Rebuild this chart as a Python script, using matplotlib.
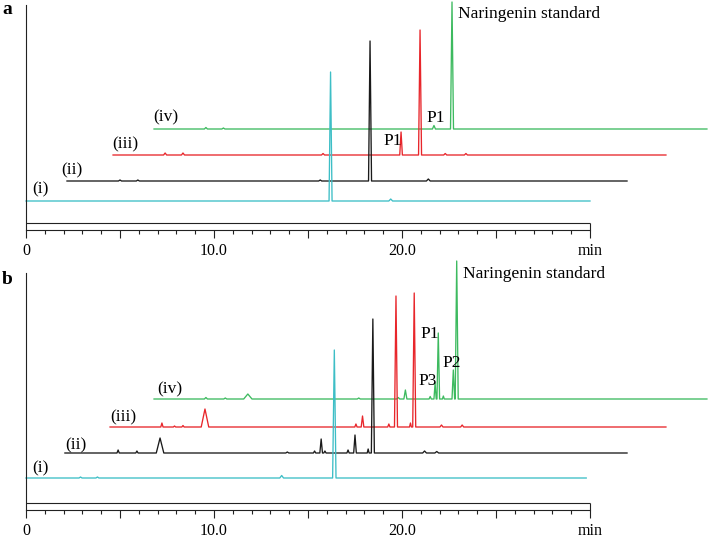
import numpy as np
import matplotlib
matplotlib.use("Agg")
import matplotlib.pyplot as plt

plt.rcParams['font.family'] = ['Liberation Serif', 'DejaVu Serif']

# -----------------------------
# Data (time in min, intensity in arbitrary units)
# traces: (i) cyan, (ii) black, (iii) red, (iv) green
# -----------------------------
labels = ["(i)", "(ii)", "(iii)", "(iv)"]
colors = ["#3dbec6", "#1a1a1a", "#e8262b", "#3dba5f"]

# panel a
a_start = [0.0, 2.18, 4.63, 6.81]
a_end = [30.0, 31.97, 34.04, 36.22]
a_base = [29, 49, 75, 101]
a_peak_t = [
    [16.2, 19.4],
    [5.0, 5.95, 15.65, 18.3, 21.4],
    [7.4, 8.35, 15.8, 19.95, 20.96, 22.3, 23.4],
    [9.57, 10.5, 21.7, 22.66],
]
a_peak_h = [
    [129, 2],
    [1, 1, 1, 140, 2],
    [2, 2, 1.5, 23, 125, 1.5, 1.5],
    [1.5, 1, 3.5, 127],
]
a_peak_w = [
    [0.08, 0.1],
    [0.08, 0.08, 0.08, 0.08, 0.1],
    [0.08, 0.08, 0.08, 0.07, 0.08, 0.08, 0.08],
    [0.08, 0.08, 0.08, 0.08],
]

# panel b
b_start = [0.0, 2.07, 4.47, 6.81]
b_end = [29.8, 31.97, 34.04, 36.22]
b_base = [32, 57, 83, 111]
b_peak_t = [
    [2.9, 3.8, 13.6, 16.4],
    [4.9, 5.9, 7.13, 13.9, 15.35, 15.7, 15.9, 17.13, 17.5, 18.2, 18.45, 21.2, 21.85],
    [7.23, 7.9, 8.35, 9.52, 17.55, 17.9, 19.3, 19.68, 20.45, 20.65, 22.1, 23.2],
    [9.57, 10.6, 11.8, 17.7, 19.8, 20.18, 21.5, 21.76, 21.93, 22.2, 22.73, 22.91],
]
b_peak_h = [
    [1, 1, 2.5, 128],
    [3, 2, 15, 1, 2, 14, 2, 3, 18, 4, 134, 2, 1.5],
    [4, 1, 1.5, 18, 3, 11, 3, 131, 4, 134, 2, 2],
    [1.5, 1, 5, 1, 1.5, 9, 2.5, 16, 66, 3, 29, 138],
]
b_peak_w = [
    [0.08, 0.08, 0.1, 0.09],
    [0.06, 0.06, 0.2, 0.08, 0.06, 0.07, 0.06, 0.06, 0.07, 0.05, 0.08, 0.1, 0.1],
    [0.06, 0.06, 0.06, 0.2, 0.06, 0.07, 0.06, 0.08, 0.05, 0.08, 0.08, 0.08],
    [0.08, 0.08, 0.22, 0.08, 0.08, 0.08, 0.06, 0.06, 0.07, 0.05, 0.07, 0.08],
]

# text labels
a_label_pos = [(0.32, 41), (1.9, 60), (4.57, 86), (6.75, 113)]
b_label_pos = [(0.32, 42), (2.07, 65), (4.47, 93), (7.0, 121)]
a_notes = [("P1", 19.0, 89), ("P1", 21.28, 112), ("Naringenin standard", 22.98, 216)]
b_notes = [("P1", 20.96, 176), ("P2", 22.13, 147), ("P3", 20.9, 129),
           ("Naringenin standard", 23.24, 236)]

tick_major = [0, 5, 10, 15, 20, 25, 30]
tick_labels = ["0", "", "10.0", "", "20.0", "", "min"]
tick_minor = list(range(0, 31))


def draw_trace(ax, start, end, base, t, h, w, color):
    xs = [start]
    ys = [base]
    for ti, hi, wi in sorted(zip(t, h, w)):
        xs += [ti - wi, ti, ti + wi]
        ys += [base, base + hi, base]
    xs.append(end)
    ys.append(base)
    ax.plot(xs, ys, color=color, lw=0.95)


def setup_axis(ax, ytop, ymax):
    ax.set_xlim(-1.383, 36.33)
    ax.set_ylim(0, ymax)
    for s in ["top", "right"]:
        ax.spines[s].set_visible(False)
    ax.spines["left"].set_position(("data", 0))
    ax.spines["left"].set_bounds(0, ytop)
    ax.spines["bottom"].set_bounds(0, 30)
    for s in ["left", "bottom"]:
        ax.spines[s].set_linewidth(0.8)
        ax.spines[s].set_color("#222222")
    ax.set_yticks([])
    ax.set_xticks(tick_major)
    ax.set_xticklabels(tick_labels)
    ax.set_xticks(tick_minor, minor=True)
    ax.tick_params(axis="x", which="major", length=5.8, width=0.8,
                   direction="out", pad=3.5, labelsize=11.5, color="#222222")
    ax.tick_params(axis="x", which="minor", length=2.8, width=0.8,
                   direction="out", color="#222222")
    # second line of the time bar
    ax.hlines(7, 0, 30, color="#222222", lw=0.8)
    ax.vlines(30, 0, 7, color="#222222", lw=0.8)


fig = plt.figure(figsize=(7.09, 5.39), dpi=100)
ax_a = fig.add_axes([0, 309 / 539, 1, 230 / 539])
ax_b = fig.add_axes([0, 29 / 539, 1, 250 / 539])
for ax in (ax_a, ax_b):
    ax.patch.set_visible(False)

setup_axis(ax_a, 225, 230)
setup_axis(ax_b, 237, 250)

# draw green first, cyan last
for k in [3, 2, 1, 0]:
    draw_trace(ax_a, a_start[k], a_end[k], a_base[k],
               a_peak_t[k], a_peak_h[k], a_peak_w[k], colors[k])
    draw_trace(ax_b, b_start[k], b_end[k], b_base[k],
               b_peak_t[k], b_peak_h[k], b_peak_w[k], colors[k])

for k in range(4):
    ax_a.text(a_label_pos[k][0], a_label_pos[k][1], labels[k],
              fontsize=12.5, ha="left", va="center")
    ax_b.text(b_label_pos[k][0], b_label_pos[k][1], labels[k],
              fontsize=12.5, ha="left", va="center")

for txt, x, y in a_notes:
    ax_a.text(x, y, txt, fontsize=12.5, ha="left", va="center")
for txt, x, y in b_notes:
    ax_b.text(x, y, txt, fontsize=12.5, ha="left", va="center")

fig.text(2 / 709, 1 - 9 / 539, "a", fontsize=14, fontweight="bold",
         ha="left", va="center")
fig.text(2 / 709, 1 - 280 / 539, "b", fontsize=14, fontweight="bold",
         ha="left", va="center")

fig.savefig("out.png", dpi=100)
